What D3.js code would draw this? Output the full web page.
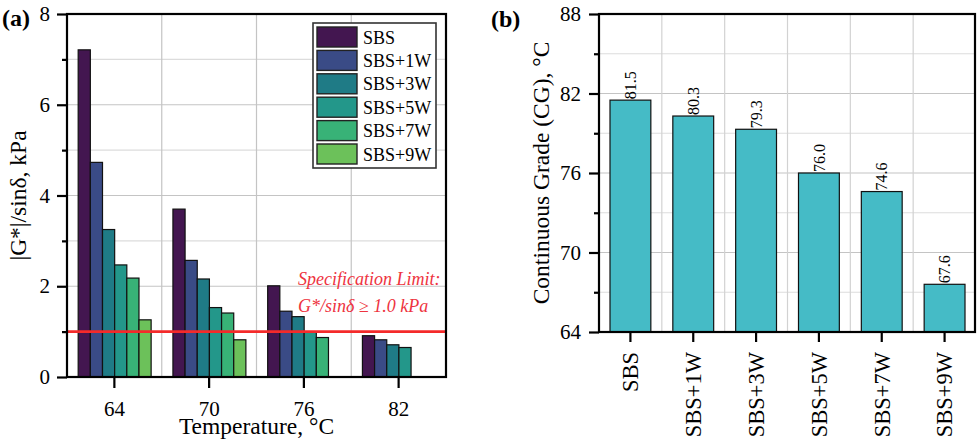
<!DOCTYPE html>
<html>
<head>
<meta charset="utf-8">
<script src="https://cdn.jsdelivr.net/npm/d3@7"></script>
<style>
  body { margin: 0; background: #fff; }
  svg { display: block; font-family: "Liberation Serif", "Times New Roman", serif; }
</style>
</head>
<body>
<svg width="980" height="444"></svg>
<script>
// panel (a) data: |G*|/sin(delta) in kPa, one array per temperature
var temps = [64, 70, 76, 82];
var series = ["SBS", "SBS+1W", "SBS+3W", "SBS+5W", "SBS+7W", "SBS+9W"];
var g64 = [7.21, 4.73, 3.25, 2.47, 2.18, 1.26];
var g70 = [3.70, 2.57, 2.16, 1.53, 1.41, 0.82];
var g76 = [2.01, 1.45, 1.33, 0.99, 0.87];
var g82 = [0.91, 0.82, 0.71, 0.65];
var specLimit = 1.0;
var gTicks = [0, 2, 4, 6, 8];

// panel (b) data: continuous grade
var cgValues = [81.5, 80.3, 79.3, 76.0, 74.6, 67.6];
var cgTicks = [64, 70, 76, 82, 88];

var colors = ["#431650", "#3a4b86", "#1f7b86", "#23978a", "#38b277", "#6cc15a"];
var cgColor = "#45bbc6";
var serif = "'Liberation Serif', 'Times New Roman', serif";

var svg = d3.select("svg");

var byTemp = [g64, g70, g76, g82];
var rows = [];
temps.forEach(function(t, i) {
	byTemp[i].forEach(function(v, j) { rows.push({temp: t, series: series[j], value: v}); });
});

// ---------- panel (a)
var A = {left: 67, right: 446, top: 14, bottom: 377};

var x0 = d3.scaleBand().domain(temps).range([A.left, A.right]);
var x1 = d3.scaleBand().domain(series)
	.range([x0.bandwidth() * 0.118, x0.bandwidth() * 0.888]);
var yA = d3.scaleLinear().domain([0, 8]).range([A.bottom, A.top]);

var ga = svg.append("g");

// grid
ga.selectAll(".hgrid")
	.data(d3.range(1, 8))
	.enter().append("line")
	.attr("x1", A.left).attr("x2", A.right)
	.attr("y1", function(d) { return yA(d); })
	.attr("y2", function(d) { return yA(d); })
	.attr("stroke", function(d) { return d % 2 ? "#dcdcdc" : "#c4c4c4"; })
	.attr("stroke-width", 1.2);
ga.selectAll(".vgrid")
	.data(temps.slice(1))
	.enter().append("line")
	.attr("x1", function(d) { return x0(d); })
	.attr("x2", function(d) { return x0(d); })
	.attr("y1", A.top).attr("y2", A.bottom)
	.attr("stroke", "#c4c4c4")
	.attr("stroke-width", 1.2);

// bars
ga.selectAll(".bar")
	.data(rows)
	.enter().append("rect")
	.attr("x", function(d) { return x0(d.temp) + x1(d.series); })
	.attr("y", function(d) { return yA(d.value); })
	.attr("width", x1.bandwidth())
	.attr("height", function(d) { return yA(0) - yA(d.value); })
	.attr("fill", function(d) { return colors[series.indexOf(d.series)]; })
	.attr("stroke", "#111")
	.attr("stroke-width", 1.2);

// spec limit
ga.append("line")
	.attr("x1", A.left).attr("x2", A.right)
	.attr("y1", yA(specLimit)).attr("y2", yA(specLimit))
	.attr("stroke", "#f42a2a")
	.attr("stroke-width", 2.6);
ga.append("text")
	.attr("x", 298).attr("y", 285)
	.attr("font-size", 18).attr("font-style", "italic")
	.attr("fill", "#ee3340")
	.text("Specification Limit:");
ga.append("text")
	.attr("x", 298).attr("y", 312)
	.attr("font-size", 18).attr("font-style", "italic")
	.attr("fill", "#ee3340")
	.text("G*/sinδ ≥ 1.0 kPa");

// axes
ga.append("g")
	.attr("transform", "translate(" + A.left + ",0)")
	.call(d3.axisLeft(yA).tickValues(gTicks).tickSize(10).tickPadding(7).tickFormat(d3.format("d")));
ga.append("g")
	.attr("transform", "translate(" + A.left + ",0)")
	.call(d3.axisLeft(yA).tickValues([1, 3, 5, 7]).tickSize(5).tickFormat(""));
ga.append("g")
	.attr("transform", "translate(0," + A.bottom + ")")
	.call(d3.axisBottom(x0).tickSize(11).tickPadding(13));

// legend
var leg = ga.append("g").attr("transform", "translate(313,23)");
leg.append("rect")
	.attr("width", 123).attr("height", 145)
	.attr("fill", "#fff").attr("stroke", "#333").attr("stroke-width", 1.6);
var li = leg.selectAll(".li")
	.data(series)
	.enter().append("g")
	.attr("transform", function(d, i) { return "translate(4," + (4 + i * 23.4) + ")"; });
li.append("rect")
	.attr("width", 40).attr("height", 20)
	.attr("fill", function(d, i) { return colors[i]; })
	.attr("stroke", "#222").attr("stroke-width", 1.4);
li.append("text")
	.attr("x", 46).attr("y", 16.5)
	.attr("font-size", 18)
	.text(function(d) { return d; });

// frame
ga.append("rect")
	.attr("x", A.left).attr("y", A.top)
	.attr("width", A.right - A.left).attr("height", A.bottom - A.top)
	.attr("fill", "none").attr("stroke", "#000").attr("stroke-width", 2.2);

ga.append("text")
	.attr("transform", "translate(18," + (A.top + A.bottom) / 2 + ") rotate(-90)")
	.attr("text-anchor", "middle").attr("dy", "0.35em")
	.attr("font-size", 23.5)
	.text("|G*|/sinδ, kPa");
ga.append("text")
	.attr("x", (A.left + A.right) / 2).attr("y", 434)
	.attr("text-anchor", "middle")
	.attr("font-size", 23.5)
	.text("Temperature, °C");
ga.append("text")
	.attr("x", 2).attr("y", 26)
	.attr("font-size", 24).attr("font-weight", "bold")
	.text("(a)");

// ---------- panel (b)
var B = {left: 599, right: 976, top: 14, bottom: 332};

var xB = d3.scaleBand().domain(series).range([B.left, B.right])
	.paddingInner(0.35).paddingOuter(0.175);
var yB = d3.scaleLinear().domain([64, 88]).range([B.bottom, B.top]);

var gb = svg.append("g");

gb.selectAll(".hgrid")
	.data(d3.range(67, 88, 3))
	.enter().append("line")
	.attr("x1", B.left).attr("x2", B.right)
	.attr("y1", function(d) { return yB(d); })
	.attr("y2", function(d) { return yB(d); })
	.attr("stroke", function(d) { return (d - 64) % 6 ? "#dcdcdc" : "#c4c4c4"; })
	.attr("stroke-width", 1.2);
gb.selectAll(".vgrid")
	.data(series.slice(1))
	.enter().append("line")
	.attr("x1", function(d) { return xB(d) - xB.step() * xB.paddingInner() / 2; })
	.attr("x2", function(d) { return xB(d) - xB.step() * xB.paddingInner() / 2; })
	.attr("y1", B.top).attr("y2", B.bottom)
	.attr("stroke", "#d2d2d2")
	.attr("stroke-width", 1.2);

gb.selectAll(".bar")
	.data(cgValues)
	.enter().append("rect")
	.attr("x", function(d, i) { return xB(series[i]); })
	.attr("y", function(d) { return yB(d); })
	.attr("width", xB.bandwidth())
	.attr("height", function(d) { return yB(64) - yB(d); })
	.attr("fill", cgColor)
	.attr("stroke", "#111")
	.attr("stroke-width", 1.2);

gb.selectAll(".lbl")
	.data(cgValues)
	.enter().append("text")
	.attr("transform", function(d, i) {
		return "translate(" + (xB(series[i]) + xB.bandwidth() / 2) + "," + (yB(d) - 1) + ") rotate(-90)";
	})
	.attr("dy", "0.35em")
	.attr("font-size", 16)
	.text(function(d) { return d3.format(".1f")(d); });

gb.append("g")
	.attr("transform", "translate(" + B.left + ",0)")
	.call(d3.axisLeft(yB).tickValues(cgTicks).tickSize(10).tickPadding(8));
gb.append("g")
	.attr("transform", "translate(" + B.left + ",0)")
	.call(d3.axisLeft(yB).tickValues([67, 73, 79, 85]).tickSize(5).tickFormat(""));
var xAxisB = gb.append("g")
	.attr("transform", "translate(0," + B.bottom + ")")
	.call(d3.axisBottom(xB).tickSize(10).tickPadding(10));
xAxisB.selectAll("text")
	.attr("transform", "rotate(-90)")
	.attr("text-anchor", "end")
	.attr("x", -20).attr("y", 0)
	.attr("dy", "0.35em")
	.attr("font-size", 22.5);

gb.append("rect")
	.attr("x", B.left).attr("y", B.top)
	.attr("width", B.right - B.left - 1).attr("height", B.bottom - B.top)
	.attr("fill", "none").attr("stroke", "#000").attr("stroke-width", 2.2);

gb.append("text")
	.attr("transform", "translate(541," + (B.top + B.bottom) / 2 + ") rotate(-90)")
	.attr("text-anchor", "middle").attr("dy", "0.35em")
	.attr("font-size", 23.5)
	.text("Continuous Grade (CG), °C");
gb.append("text")
	.attr("x", 491).attr("y", 27)
	.attr("font-size", 24).attr("font-weight", "bold")
	.text("(b)");

// shared axis styling
svg.selectAll(".domain").remove();
svg.selectAll(".tick").each(function() {
	d3.select(this.parentNode).attr("font-family", serif).attr("font-size", 21);
});
svg.selectAll(".tick line").attr("stroke", "#000").attr("stroke-width", 2.2);
svg.selectAll(".tick text").attr("fill", "#000").style("font-family", serif);
</script>
</body>
</html>
